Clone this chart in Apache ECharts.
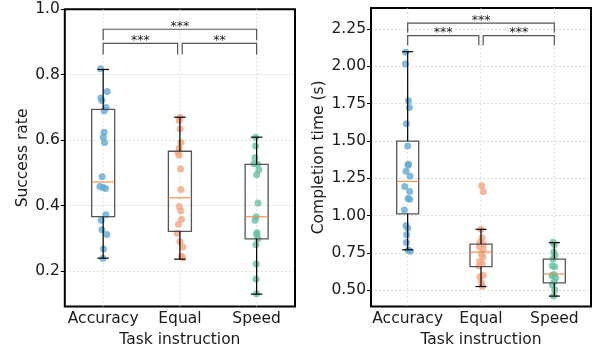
<!DOCTYPE html>
<html>
<head>
<meta charset="utf-8">
<script src="https://cdn.jsdelivr.net/npm/echarts@6/dist/echarts.min.js"></script>
<style>
  html, body { margin: 0; padding: 0; background: #fff; }
  #chart { width: 602px; height: 353px; }
</style>
</head>
<body>
<div id="chart"></div>
<script>
const categories = ['Accuracy', 'Equal', 'Speed'];
const groupColors = ['#63aad4', '#f4a582', '#66c2a5'];

// success rate, points per group (value) and their horizontal jitter (category units)
const successAccuracy = [0.818, 0.749, 0.729, 0.721, 0.700, 0.690, 0.624, 0.609, 0.593, 0.488,
  0.458, 0.455, 0.452, 0.372, 0.355, 0.326, 0.311, 0.267, 0.239];
const successAccuracyJitter = [-0.034, 0.052, -0.03, -0.017, 0.039, 0.013, 0.013, 0, 0.018, -0.013,
  -0.043, 0, 0.031, 0.035, -0.026, -0.017, 0.048, 0.005, -0.004];
const successEqual = [0.670, 0.660, 0.635, 0.593, 0.575, 0.561, 0.554, 0.512, 0.449, 0.397,
  0.384, 0.358, 0.343, 0.315, 0.290, 0.273, 0.245, 0.240];
const successEqualJitter = [0.004, -0.009, 0.004, 0.013, -0.009, -0.022, -0.013, 0.008, 0.013, -0.009,
  0.013, 0.021, -0.018, -0.035, 0, 0.039, 0.021, 0.034];
const successSpeed = [0.609, 0.582, 0.546, 0.528, 0.526, 0.509, 0.494, 0.408, 0.366, 0.355,
  0.317, 0.311, 0.298, 0.280, 0.221, 0.175, 0.130];
const successSpeedJitter = [-0.013, -0.013, -0.022, -0.035, 0.013, 0.03, 0, 0.017, -0.005, -0.022,
  0.004, 0, 0.017, -0.009, -0.005, -0.009, 0];

// completion time (s)
const timeAccuracy = [2.095, 2.016, 1.769, 1.725, 1.615, 1.467, 1.345, 1.338, 1.297, 1.265,
  1.196, 1.163, 1.115, 1.110, 1.038, 0.934, 0.917, 0.873, 0.820, 0.770, 0.763];
const timeAccuracyJitter = [-0.027, -0.031, 0.01, 0.023, -0.018, 0, 0.01, 0.005, -0.022, 0.032,
  -0.04, 0.027, 0.005, 0.027, -0.045, -0.022, 0, -0.014, -0.018, 0.005, 0.036];
const timeEqual = [1.201, 1.161, 0.909, 0.853, 0.823, 0.810, 0.792, 0.775, 0.743, 0.723,
  0.695, 0.679, 0.663, 0.602, 0.591, 0.553, 0.528];
const timeEqualJitter = [0.009, 0.032, 0, 0.014, -0.014, 0.032, -0.023, 0.027, 0.005, 0.027,
  -0.018, 0.018, -0.027, 0.032, -0.014, 0.005, 0.018];
const timeSpeed = [0.823, 0.807, 0.758, 0.736, 0.710, 0.665, 0.659, 0.606, 0.600, 0.587,
  0.560, 0.538, 0.505, 0.462];
const timeSpeedJitter = [-0.018, 0, -0.009, 0.009, -0.018, -0.027, 0.005, -0.005, -0.032, 0.018,
  0, -0.027, 0.005, -0.009];

// box stats: [lower whisker, Q1, median, Q3, upper whisker]
const successBoxes = [
  [0.239, 0.366, 0.472, 0.694, 0.816],
  [0.236, 0.321, 0.4235, 0.566, 0.670],
  [0.129, 0.298, 0.3655, 0.5255, 0.609]
];
const timeBoxes = [
  [0.772, 1.013, 1.230, 1.500, 2.098],
  [0.526, 0.659, 0.757, 0.810, 0.909],
  [0.462, 0.550, 0.610, 0.710, 0.820]
];

const successTicks = [0.2, 0.4, 0.6, 0.8, 1.0];
const timeTicks = [0.5, 0.75, 1.0, 1.25, 1.5, 1.75, 2.0, 2.25];

// significance brackets: [from, to, bar level, leg bottom]
const successBrackets = [[0, 2, 0.939, 0.905], [0, 0.97, 0.896, 0.862], [1.03, 2, 0.896, 0.862]];
const successStars = ['***', '***', '**'];
const timeBrackets = [[0, 2, 2.290, 2.226], [0, 0.97, 2.206, 2.142], [1.03, 2, 2.206, 2.142]];
const timeStars = ['***', '***', '***'];

const FONT = 'DejaVu Sans';
const TEXT = '#1a1a1a';
const GRIDLINE = { color: '#d6d6d6', width: 0.8, type: [2, 2] };

function renderBox(params, api) {
  const i = api.value(0);
  const lo = api.coord([i, api.value(1)]);
  const q1 = api.coord([i, api.value(2)]);
  const md = api.coord([i, api.value(3)]);
  const q3 = api.coord([i, api.value(4)]);
  const hi = api.coord([i, api.value(5)]);
  const half = api.size([0.3, 0])[0] / 2;
  const cap = half / 2;
  const x = lo[0];
  const black = { stroke: '#000', lineWidth: 1.2 };
  return {
    type: 'group',
    children: [
      { type: 'rect', shape: { x: x - half, y: q3[1], width: half * 2, height: q1[1] - q3[1] },
        style: { fill: 'none', stroke: '#555', lineWidth: 1.3 } },
      { type: 'line', shape: { x1: x - half, y1: md[1], x2: x + half, y2: md[1] },
        style: { stroke: '#f08a45', lineWidth: 1.1 } },
      { type: 'line', shape: { x1: x, y1: q3[1], x2: x, y2: hi[1] }, style: black },
      { type: 'line', shape: { x1: x, y1: q1[1], x2: x, y2: lo[1] }, style: black },
      { type: 'line', shape: { x1: x - cap, y1: hi[1], x2: x + cap, y2: hi[1] }, style: black },
      { type: 'line', shape: { x1: x - cap, y1: lo[1], x2: x + cap, y2: lo[1] }, style: black }
    ]
  };
}

// vertical dotted grid line at each category centre
function renderVGrid(params, api) {
  const top = api.coord([api.value(0), api.value(2)]);
  const bot = api.coord([api.value(0), api.value(1)]);
  return { type: 'line', shape: { x1: top[0], y1: top[1], x2: bot[0], y2: bot[1] },
    style: { stroke: GRIDLINE.color, lineWidth: GRIDLINE.width, lineDash: GRIDLINE.type } };
}

function bracketRenderer(labels) {
  return function (params, api) {
    const a = api.coord([api.value(0), api.value(2)]);
    const b = api.coord([api.value(1), api.value(2)]);
    const a2 = api.coord([api.value(0), api.value(3)]);
    const b2 = api.coord([api.value(1), api.value(3)]);
    return {
      type: 'group',
      children: [
        { type: 'polyline', shape: { points: [a2, a, b, b2] },
          style: { fill: 'none', stroke: '#555', lineWidth: 1.2 } },
        { type: 'text', style: { text: labels[params.dataIndex], x: (a[0] + b[0]) / 2, y: a[1] - 2.5,
          align: 'center', verticalAlign: 'middle', font: '12.5px ' + FONT, fill: TEXT } }
      ]
    };
  };
}

function makePanel(idx, cfg) {
  const grid = { left: cfg.left, top: cfg.top, width: cfg.width, height: cfg.height, z: 1,
    show: true, borderColor: '#000', borderWidth: 2, backgroundColor: 'transparent' };
  const xCat = {
    type: 'category', gridIndex: idx, data: categories,
    name: 'Task instruction', nameLocation: 'middle', nameGap: 23,
    nameTextStyle: { fontFamily: FONT, fontSize: 15.5, color: TEXT },
    axisLine: { show: false, onZero: false },
    axisTick: { alignWithLabel: true, length: 4, lineStyle: { color: '#000', width: 1 } },
    axisLabel: { interval: 0, hideOverlap: false, margin: 4.5, fontFamily: FONT, fontSize: 15.5, color: TEXT },
    splitLine: { show: false }
  };
  const xVal = { type: 'value', gridIndex: idx, min: -0.5, max: 2.5, show: false,
    axisLine: { onZero: false } };
  const yAxis = {
    type: 'value', gridIndex: idx, min: cfg.yMin, max: cfg.yMax,
    name: cfg.yName, nameLocation: 'middle', nameGap: cfg.nameGap,
    nameTextStyle: { fontFamily: FONT, fontSize: 15.5, color: TEXT },
    axisLine: { show: false, onZero: false },
    axisTick: { show: true, length: 4, customValues: cfg.ticks, lineStyle: { color: '#000', width: 1 } },
    axisLabel: { margin: 5, fontFamily: FONT, fontSize: 15.5, color: TEXT, customValues: cfg.ticks,
      formatter: (v) => v.toFixed(cfg.digits) },
    splitLine: { show: true, lineStyle: GRIDLINE }
  };
  const xi = idx * 2 + 1;
  const series = [];
  series.push({
    type: 'custom', xAxisIndex: xi, yAxisIndex: idx, z: 1, silent: true, renderItem: renderVGrid,
    encode: { x: 0, y: [1, 2] },
    data: categories.map((c, k) => [k, cfg.yMin, cfg.yMax])
  });
  cfg.points.forEach((vals, g) => {
    series.push({
      type: 'scatter', xAxisIndex: xi, yAxisIndex: idx, z: 2, symbolSize: 7,
      itemStyle: { color: groupColors[g], opacity: 0.8 },
      data: vals.map((v, k) => [g + cfg.jitter[g][k], v])
    });
  });
  series.push({
    type: 'custom', xAxisIndex: xi, yAxisIndex: idx, z: 3, renderItem: renderBox,
    encode: { x: 0, y: [1, 2, 3, 4, 5] },
    data: cfg.boxes.map((b, k) => [k].concat(b))
  });
  series.push({
    type: 'custom', xAxisIndex: xi, yAxisIndex: idx, z: 4, renderItem: bracketRenderer(cfg.stars),
    encode: { x: [0, 1], y: [2, 3] }, clip: false,
    data: cfg.brackets
  });
  return { grid, xAxes: [xCat, xVal], yAxis, series };
}

const left = makePanel(0, {
  left: 64.8, top: 9.3, width: 230.2, height: 297.4,
  yMin: 0.0909, yMax: 1.0, ticks: successTicks, digits: 1,
  yName: 'Success rate', nameGap: 33,
  points: [successAccuracy, successEqual, successSpeed],
  jitter: [successAccuracyJitter, successEqualJitter, successSpeedJitter],
  boxes: successBoxes, brackets: successBrackets, stars: successStars
});
const right = makePanel(1, {
  left: 371, top: 8, width: 220, height: 302.7,
  yMin: 0.3917, yMax: 2.3907, ticks: timeTicks, digits: 2,
  yName: 'Completion time (s)', nameGap: 44,
  points: [timeAccuracy, timeEqual, timeSpeed],
  jitter: [timeAccuracyJitter, timeEqualJitter, timeSpeedJitter],
  boxes: timeBoxes, brackets: timeBrackets, stars: timeStars
});

const chart = echarts.init(document.getElementById('chart'), null, { renderer: 'canvas' });
chart.setOption({
  animation: false,
  backgroundColor: '#fff',
  grid: [left.grid, right.grid],
  xAxis: left.xAxes.concat(right.xAxes),
  yAxis: [left.yAxis, right.yAxis],
  series: left.series.concat(right.series)
});
</script>
</body>
</html>
